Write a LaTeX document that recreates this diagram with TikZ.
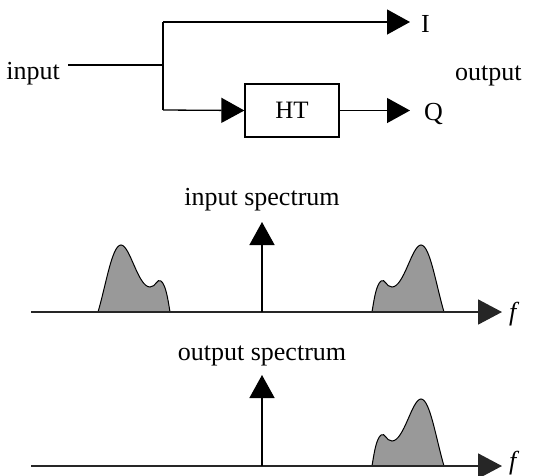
\documentclass[tikz,border=0pt]{standalone}
\usepackage{fontspec}
\setmainfont{Liberation Serif}
\usetikzlibrary{arrows.meta}
\tikzset{
  lbl/.style={inner sep=0pt, font=\fontsize{26}{30}\selectfont},
  wire/.style={line width=1.3pt},
  fwd/.style={wire, -{Triangle[length=23pt,width=25pt]}},
  axisline/.style={line width=1.8pt, draw=black!85, -{Triangle[length=24pt,width=25pt]}},
  spike/.style={line width=1.5pt, -{Triangle[length=23pt,width=25pt]}},
  band/.style={fill=black!40, draw=black, line width=1pt},
  htbox/.style={draw, line width=1.3pt, minimum width=94pt, minimum height=53pt, inner sep=0pt, font=\fontsize{25}{28}\selectfont}
}
\begin{document}
\begin{tikzpicture}[x=1pt, y=-1pt]
\useasboundingbox (0,0) rectangle (553,475);

% ---- I/Q splitter with Hilbert transformer ----
\node[lbl, anchor=base east] (in) at (60,79) {input};
\coordinate (split) at (163,65);
\coordinate (top) at (163,22);
\coordinate (low) at (163,110);
\node[htbox] (ht) at (292,110.5) {HT};
\node[lbl, anchor=base west] (I) at (421,32) {I};
\node[lbl, anchor=base west] (Q) at (424,120) {Q};
\node[lbl, anchor=base west] (out) at (455,80) {output};

\draw[wire] ([xshift=8pt]in.east |- split) -- (split);
\draw[wire] (low) -- (top);
\draw[fwd] (top) -- ([xshift=-11pt]top -| I.west);
\draw[fwd] (low) -- (ht.west);
\draw[fwd] (ht.east) -- ([xshift=-14pt]ht.east -| Q.west);

% ---- input spectrum ----
\node[lbl, anchor=base] (inspec) at (262,205) {input spectrum};
\coordinate (ax1) at (31,312);
\coordinate (dc1) at (262,312);
\node[lbl, anchor=base west] (f1) at (509,320) {\itshape f};
\draw[band] (98,312) .. controls (106,285) and (112,245) .. (121,245)
  .. controls (130,245) and (138,287) .. (150,287)
  .. controls (156,287) and (157,278) .. (161,281)
  .. controls (166,285) and (168,300) .. (170,312) -- cycle;
\draw[band] (372,312) .. controls (374,300) and (376,285) .. (381,281)
  .. controls (385,278) and (386,287) .. (392,287)
  .. controls (404,287) and (412,245) .. (421,245)
  .. controls (430,245) and (436,285) .. (444,312) -- cycle;
\draw[axisline] (ax1) -- ([xshift=-7pt]ax1 -| f1.west);
\draw[spike] (dc1) -- ([yshift=90pt]dc1);

% ---- output spectrum ----
\node[lbl, anchor=base] (outspec) at (262,360) {output spectrum};
\coordinate (ax2) at (31,466);
\coordinate (dc2) at (262,466);
\node[lbl, anchor=base west] (f2) at (509,469) {\itshape f};
\draw[band] (372,466) .. controls (374,454) and (376,439) .. (381,435)
  .. controls (385,432) and (386,441) .. (392,441)
  .. controls (404,441) and (412,399) .. (421,399)
  .. controls (430,399) and (436,439) .. (444,466) -- cycle;
\draw[axisline] (ax2) -- ([xshift=-7pt]ax2 -| f2.west);
\draw[spike] (dc2) -- ([yshift=91pt]dc2);
\end{tikzpicture}
\end{document}
